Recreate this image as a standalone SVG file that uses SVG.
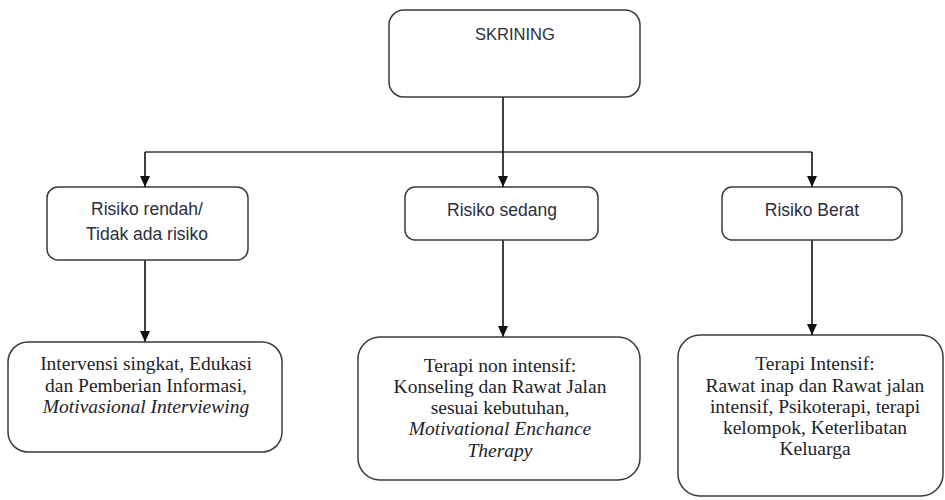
<svg xmlns="http://www.w3.org/2000/svg" width="945" height="500" viewBox="0 0 945 500">
<style>
.box{fill:#fff;stroke:#3a3a3a;stroke-width:1.5}
.sans{font-family:"Liberation Sans",Arial,sans-serif;font-size:17.5px;fill:#2a2e3e;text-anchor:middle}
.serif{font-family:"Liberation Serif","Times New Roman",serif;font-size:19.5px;fill:#1e1e28;text-anchor:middle}
.it{font-style:italic}
.con{fill:none;stroke:#111;stroke-width:1.6}
.hline{fill:none;stroke:#6a6a6a;stroke-width:2.2}
</style>
<defs>
<marker id="ah" markerUnits="userSpaceOnUse" markerWidth="12" markerHeight="10" refX="11" refY="5" orient="auto" viewBox="0 0 12 10">
<path d="M0,0 L11,5 L0,10 Z" fill="#111"/>
</marker>
</defs>
<g id="connectors">
<path class="hline" d="M145,152 L812,152"/>
<path class="con" d="M503,97 L503,187" marker-end="url(#ah)"/>
<path class="con" d="M145,152 L145,187" marker-end="url(#ah)"/>
<path class="con" d="M812,152 L812,187" marker-end="url(#ah)"/>
<path class="con" d="M145,260 L145,342" marker-end="url(#ah)"/>
<path class="con" d="M503,240 L503,337" marker-end="url(#ah)"/>
<path class="con" d="M812,240 L812,335" marker-end="url(#ah)"/>
</g>
<g id="skrining">
<rect class="box" x="389" y="10" width="251" height="87" rx="15"/>
<text class="sans" x="515" y="40" style="font-size:16.5px">SKRINING</text>
</g>
<g id="risiko-rendah">
<rect class="box" x="47" y="187" width="201" height="73" rx="11"/>
<text class="sans" x="147" y="215">Risiko rendah/</text>
<text class="sans" x="147" y="240">Tidak ada risiko</text>
</g>
<g id="risiko-sedang">
<rect class="box" x="405" y="187" width="193" height="53" rx="10"/>
<text class="sans" x="502" y="216">Risiko sedang</text>
</g>
<g id="risiko-berat">
<rect class="box" x="722" y="187" width="180" height="53" rx="10"/>
<text class="sans" x="812" y="216">Risiko Berat</text>
</g>
<g id="intervensi">
<rect class="box" x="8" y="342" width="274" height="110" rx="20"/>
<text class="serif" x="146" y="370">Intervensi singkat, Edukasi</text>
<text class="serif" x="146" y="392">dan Pemberian Informasi,</text>
<text class="serif it" x="146" y="413">Motivasional Interviewing</text>
</g>
<g id="terapi-non-intensif">
<rect class="box" x="358" y="337" width="282" height="143" rx="22"/>
<text class="serif" x="500" y="372">Terapi non intensif:</text>
<text class="serif" x="500" y="393">Konseling dan Rawat Jalan</text>
<text class="serif" x="500" y="414">sesuai kebutuhan,</text>
<text class="serif it" x="500" y="435">Motivational Enchance</text>
<text class="serif it" x="500" y="457">Therapy</text>
</g>
<g id="terapi-intensif">
<rect class="box" x="678" y="335" width="265" height="161" rx="22"/>
<text class="serif" x="815" y="370">Terapi Intensif:</text>
<text class="serif" x="815" y="392">Rawat inap dan Rawat jalan</text>
<text class="serif" x="815" y="413">intensif, Psikoterapi, terapi</text>
<text class="serif" x="815" y="434">kelompok, Keterlibatan</text>
<text class="serif" x="815" y="455">Keluarga</text>
</g>
</svg>
